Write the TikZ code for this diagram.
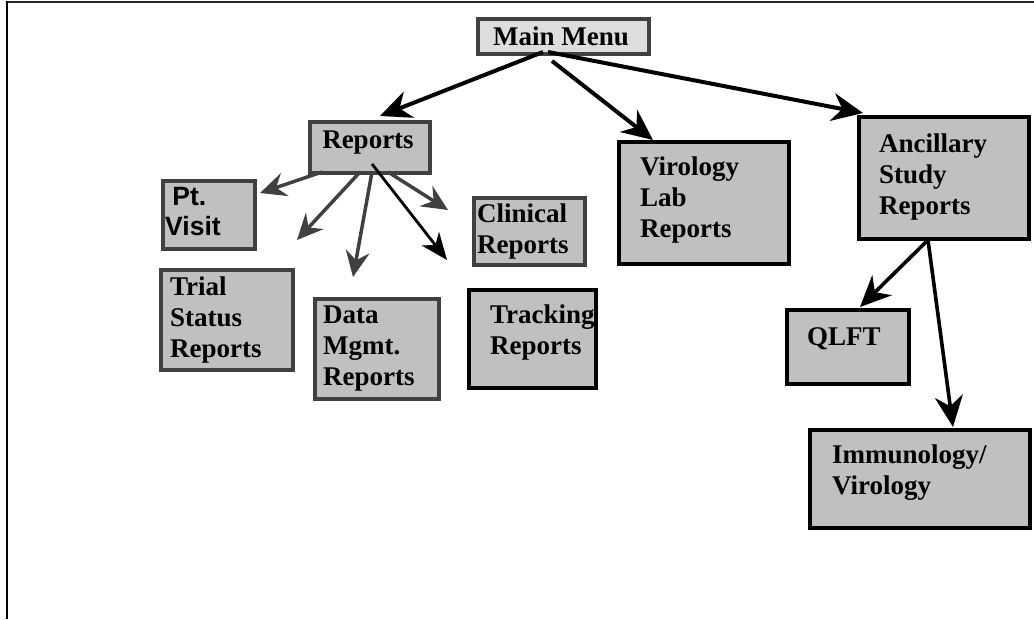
\documentclass[tikz,border=0pt]{standalone}
\usepackage{fontspec}
\setmainfont{Liberation Serif}
\newfontfamily\arialfont{Liberation Sans}
\usetikzlibrary{arrows.meta}
\definecolor{boxgray}{HTML}{C0C0C0}
\definecolor{menugray}{HTML}{DDDDDD}
\definecolor{darkline}{HTML}{404040}
\tikzset{
  gbox/.style={draw=darkline, line width=3.6pt, fill=boxgray, inner sep=0pt},
  kbox/.style={draw=black, line width=4.3pt, fill=boxgray, inner sep=0pt},
  txt/.style={anchor=base west, inner sep=0pt, font=\fontsize{27}{31}\selectfont\bfseries},
  bigarrow/.style={draw=black, line width=4pt, -{Stealth[length=31pt, width=28pt, inset=10pt]}},
  subarrow/.style={draw=darkline, line width=3.5pt, -{Stealth[length=26pt, width=24pt, inset=9pt]}},
  thinarrow/.style={draw=black, line width=2.8pt, -{Stealth[length=27pt, width=22pt, inset=8pt]}},
}
\begin{document}
\begin{tikzpicture}[x=1pt, y=-1pt]
\useasboundingbox (0,0) rectangle (1034,619);
% frame
\draw[line width=2.4pt, draw=black!85] (6,1.8) -- (1034,1.8);
\draw[line width=2.8pt, draw=black] (7,1) -- (7,619);

% boxes (named nodes)
\node[gbox, fill=menugray, minimum width=171pt, minimum height=35pt, anchor=north west] (menu) at (476,17) {};
\node[gbox, minimum width=120pt, minimum height=51pt, anchor=north west] (reports) at (308,120) {};
\node[gbox, minimum width=92pt, minimum height=68pt, anchor=north west] (ptvisit) at (161,179) {};
\node[gbox, minimum width=111pt, minimum height=67pt, anchor=north west] (clinical) at (472,196) {};
\node[gbox, minimum width=132pt, minimum height=100pt, anchor=north west] (trial) at (159,268) {};
\node[gbox, minimum width=124pt, minimum height=100pt, anchor=north west] (data) at (313,297) {};
\node[kbox, minimum width=127pt, minimum height=98pt, anchor=north west] (tracking) at (467,288) {};
\node[kbox, minimum width=170pt, minimum height=122pt, anchor=north west] (virology) at (617,140) {};
\node[kbox, minimum width=170pt, minimum height=122pt, anchor=north west] (ancillary) at (857,115) {};
\node[kbox, minimum width=122pt, minimum height=74pt, anchor=north west] (qlft) at (785,308) {};
\node[kbox, minimum width=220pt, minimum height=98pt, anchor=north west] (immuno) at (808,428) {};

% texts
\node[txt, anchor=base] (menu-t) at (561,45) {Main Menu};
\node[txt, anchor=base] (reports-t) at (368,148) {Reports};
\node[txt, font=\fontsize{26.5}{30}\selectfont\bfseries\arialfont] (ptvisit-t) at (165,205) {\begin{tabular}[t]{@{}l@{}}\hspace*{0.27em}Pt.\\Visit\end{tabular}};
\node[txt] (clinical-t) at (477,222) {\begin{tabular}[t]{@{}l@{}}Clinical\\Reports\end{tabular}};
\node[txt] (trial-t) at (170,295) {\begin{tabular}[t]{@{}l@{}}Trial\\Status\\Reports\end{tabular}};
\node[txt] (data-t) at (323,323) {\begin{tabular}[t]{@{}l@{}}Data\\Mgmt.\\Reports\end{tabular}};
\node[txt] (tracking-t) at (490,323) {\begin{tabular}[t]{@{}l@{}}Tracking\\Reports\end{tabular}};
\node[txt] (virology-t) at (640,175) {\begin{tabular}[t]{@{}l@{}}Virology\\Lab\\Reports\end{tabular}};
\node[txt] (ancillary-t) at (879,152) {\begin{tabular}[t]{@{}l@{}}Ancillary\\Study\\Reports\end{tabular}};
\node[txt] (qlft-t) at (807,345) {QLFT};
\node[txt] (immuno-t) at (832,463) {\begin{tabular}[t]{@{}l@{}}Immunology/\\Virology\end{tabular}};

% connector end points
\coordinate (m1) at (543,52);
\coordinate (m2) at (552,61);
\coordinate (m3) at (548,52);
\coordinate (tReports) at (380,116);
\coordinate (tVirology) at (653,140);
\coordinate (tAncillary) at (863,113);
\coordinate (r1) at (322,172);
\coordinate (r2) at (360,172);
\coordinate (r3) at (372,172);
\coordinate (r4) at (372,164);
\coordinate (r5) at (388,172);
\coordinate (tPt) at (260,193);
\coordinate (tTrial) at (297,240);
\coordinate (tData) at (353,277);
\coordinate (tTracking) at (447,260);
\coordinate (tClinical) at (448,210);
\coordinate (a1) at (928,240);
\coordinate (tQlft) at (860,307);
\coordinate (tImmuno) at (953,427);

% connectors
\draw[bigarrow] (m1) -- (tReports);
\draw[bigarrow] (m2) -- (tVirology);
\draw[bigarrow] (m3) -- (tAncillary);
\draw[subarrow] (r1) -- (tPt);
\draw[subarrow] (r2) -- (tTrial);
\draw[subarrow] (r3) -- (tData);
\draw[thinarrow] (r4) -- (tTracking);
\draw[subarrow] (r5) -- (tClinical);
\draw[bigarrow, line width=3.6pt] (a1) -- (tQlft);
\draw[bigarrow, line width=3.6pt] (a1) -- (tImmuno);
\end{tikzpicture}
\end{document}
